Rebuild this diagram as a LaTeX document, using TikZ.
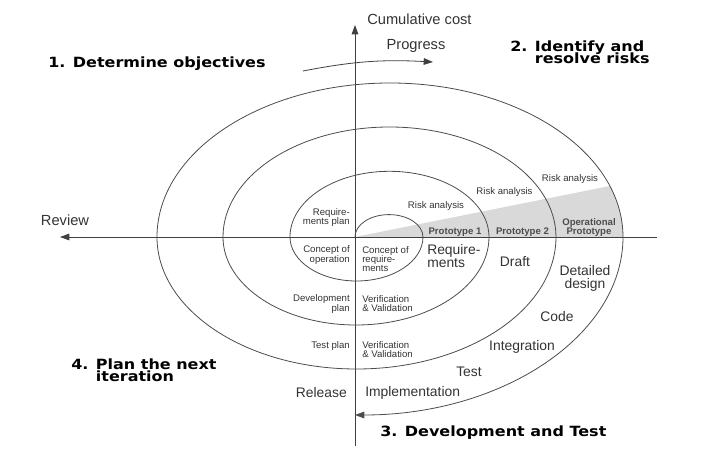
\documentclass[tikz,border=0pt]{standalone}
\usepackage{fontspec}
\setmainfont{Liberation Sans}
\newfontfamily\headfont{DejaVu Sans}
\usetikzlibrary{arrows.meta}
\lineskiplimit=-5pt

\begin{document}
\begin{tikzpicture}[x=0.75pt, y=0.75pt,
    lbl/.style={font=\fontsize{7.2}{6.8}\selectfont, text=black!80, inner sep=0pt},
    proto/.style={font=\fontsize{7.2}{6.8}\selectfont\bfseries, text=black!70, inner sep=0pt},
    big/.style={font=\fontsize{10.4}{9.8}\selectfont, text=black!80, inner sep=0pt},
    axlbl/.style={font=\fontsize{11}{12}\selectfont, text=black!80, inner sep=0pt},
    head/.style={font=\headfont\bfseries\fontsize{12}{10.4}\selectfont, inner sep=0pt,
                 align=left, yscale=0.88, transform shape},
    axis/.style={-{Triangle[length=7pt,width=5pt]}, line width=0.6pt, black!75},
    spiral/.style={line width=0.6pt, black!70},
]
\useasboundingbox (-355,-238) rectangle (364,237);

% axes
\coordinate (O) at (0,0);
\coordinate (ytop) at (0,212);
\coordinate (ybot) at (0,-209);
\coordinate (xleft) at (-295,0);
\coordinate (xright) at (302,0);

% shaded prototype wedge
\begin{scope}
  \clip (-198,0) arc[start angle=180, end angle=0, x radius=233, y radius=154] -- cycle;
  \fill[black!15] (O) -- (300,60) -- (300,0) -- cycle;
\end{scope}

\draw[axis] (ybot) -- (ytop);
\draw[axis] (xright) -- (xleft);

% spiral
\draw[spiral, -{Triangle[length=7pt,width=5pt]}] (O)
  arc[start angle=180, end angle=0, x radius=34, y radius=22.4]
  arc[start angle=0, end angle=-180, x radius=66.5, y radius=44]
  arc[start angle=180, end angle=0, x radius=99.5, y radius=65.7]
  arc[start angle=0, end angle=-180, x radius=133, y radius=88]
  arc[start angle=180, end angle=0, x radius=166.5, y radius=110]
  arc[start angle=0, end angle=-180, x radius=199.5, y radius=132]
  arc[start angle=180, end angle=0, x radius=233, y radius=154]
  arc[start angle=0, end angle=-90, x radius=268, y radius=178];

% progress
\coordinate (prog-a) at (-52,166);
\coordinate (prog-b) at (78,175);
\draw[axis] (prog-a) to[bend left=7] (prog-b);

% axis labels
\node[axlbl, anchor=west] (cost) at (12,218) {Cumulative cost};
\node[axlbl] (progress) at (61,191) {Progress};
\node[axlbl] (review) at (-290,17) {Review};

% quadrant headings
\node[head, anchor=base west] (q1) at (-307,169) {1. Determine objectives};
\node[head, anchor=base west] (q2) at (155,173) {2. Identify and\\\phantom{2. }resolve risks};
\node[head, anchor=base west] (q3) at (25,-199) {3. Development and Test};
\node[head, anchor=base west] (q4) at (-284,-145) {4. Plan the next\\\phantom{4. }iteration};

% quadrant 2
\node[lbl] (risk1) at (81,31) {Risk analysis};
\node[lbl] (risk2) at (149.5,45) {Risk analysis};
\node[lbl] (risk3) at (215,58) {Risk analysis};
\node[proto] (proto1) at (100,5) {Prototype 1};
\node[proto] (proto2) at (167.5,5) {Prototype 2};
\node[proto, align=center] (proto3) at (234,9.5) {Operational\\Prototype};

% quadrant 1
\node[lbl, align=right, anchor=east] (reqplan) at (-5,19.5) {Require-\\ments plan};
\node[lbl, align=right, anchor=east] (conop) at (-5,-18) {Concept of\\operation};

% quadrant 3
\node[lbl, align=left, anchor=west] (conreq) at (7,-22.5) {Concept of\\require-\\ments};
\node[big, align=left, anchor=west] (req) at (72,-19.5) {Require-\\ments};
\node[big] (draft) at (160,-25) {Draft};
\node[big, align=center] (design) at (230,-41) {Detailed\\design};
\node[big] (code) at (202,-80) {Code};
\node[big] (integ) at (167,-110) {Integration};
\node[big] (test) at (114,-135) {Test};
\node[big, anchor=west] (impl) at (10,-156) {Implementation};
\node[lbl, align=left, anchor=west] (vv1) at (7,-67) {Verification\\\& Validation};
\node[lbl, align=left, anchor=west] (vv2) at (7,-113) {Verification\\\& Validation};

% quadrant 4
\node[lbl, align=right, anchor=east] (devplan) at (-5,-67) {Development\\plan};
\node[lbl, anchor=east] (testplan) at (-5,-109) {Test plan};
\node[big, anchor=east] (release) at (-8,-156) {Release};

\end{tikzpicture}
\end{document}
